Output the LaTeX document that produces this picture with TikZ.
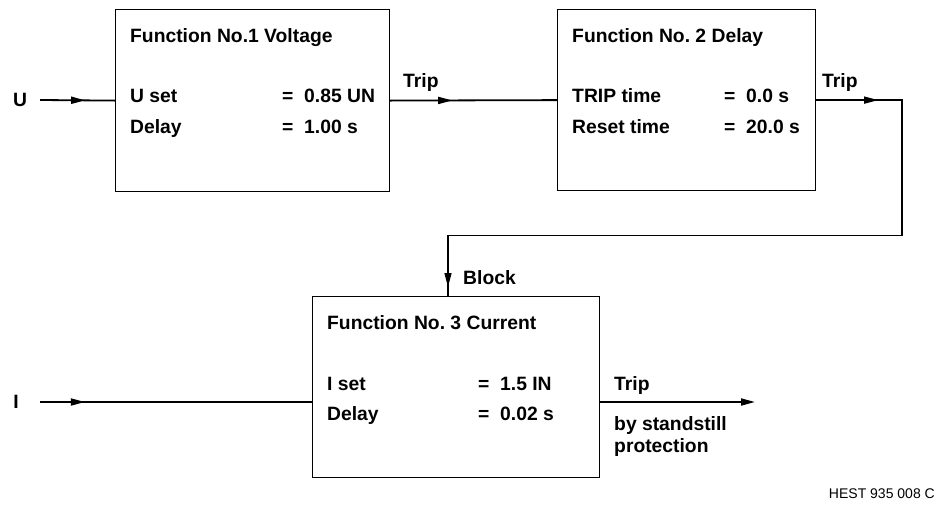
\documentclass[tikz,border=0pt]{standalone}
\usepackage{fontspec}
\setmainfont{Liberation Sans}
\usetikzlibrary{arrows.meta,positioning,decorations.markings}
\newcommand{\labelfont}{\fontsize{19.3}{22}\selectfont\bfseries}
\tikzset{
  funcbox/.style={draw,line width=1.2pt,anchor=north west,inner sep=0pt},
  boxtext/.style={anchor=base west,inner sep=0pt,font=\labelfont},
  sig/.style={inner sep=0pt,font=\labelfont},
  wire/.style={line width=1.8pt},
  loopwire/.style={line width=1.3pt},
  midtip/.style={decoration={markings,mark=at position #1 with {\arrow{Triangle[length=14pt,width=7pt]}}},postaction={decorate}},
  looptips/.style={decoration={markings,mark=at position 62pt with {\arrow{Triangle[length=14pt,width=7pt]}},mark=at position -9pt with {\arrow{Triangle[length=14pt,width=7pt]}}},postaction={decorate}}
}
\begin{document}
\frenchspacing
\begin{tikzpicture}[x=1pt,y=-1pt]
  \useasboundingbox (0,0) rectangle (939,504);
  \node[funcbox,minimum width=274pt,minimum height=182pt] (volt) at (115,9) {};
  \node[funcbox,minimum width=258pt,minimum height=181pt] (delay) at (557,9) {};
  \node[funcbox,minimum width=287pt,minimum height=181pt] (curr) at (312,296) {};

  \node[boxtext] (volttitle) at ([shift={(15,33)}]volt.north west) {Function No.1 Voltage};
  \node[boxtext] (uset) at ([shift={(15,93)}]volt.north west) {U set};
  \node[boxtext] (usetval) at ([shift={(167,93)}]volt.north west) {=\ \ 0.85 UN};
  \node[boxtext] (vdelay) at ([shift={(15,124)}]volt.north west) {Delay};
  \node[boxtext] (vdelayval) at ([shift={(167,124)}]volt.north west) {=\ \ 1.00 s};

  \node[boxtext] (delaytitle) at ([shift={(15,33)}]delay.north west) {Function No. 2 Delay};
  \node[boxtext] (triptime) at ([shift={(15,93)}]delay.north west) {TRIP time};
  \node[boxtext] (triptimeval) at ([shift={(167,93)}]delay.north west) {=\ \ 0.0 s};
  \node[boxtext] (resettime) at ([shift={(15,124)}]delay.north west) {Reset time};
  \node[boxtext] (resettimeval) at ([shift={(167,124)}]delay.north west) {=\ \ 20.0 s};

  \node[boxtext] (currtitle) at ([shift={(15,33)}]curr.north west) {Function No. 3 Current};
  \node[boxtext] (iset) at ([shift={(15,94)}]curr.north west) {I set};
  \node[boxtext] (isetval) at ([shift={(166,94)}]curr.north west) {=\ \ 1.5 IN};
  \node[boxtext] (cdelay) at ([shift={(15,124)}]curr.north west) {Delay};
  \node[boxtext] (cdelayval) at ([shift={(166,124)}]curr.north west) {=\ \ 0.02 s};

  \node[sig] (U) at (20,100) {U};
  \node[sig] (I) at (16,402) {I};
  \node[sig,anchor=base west] (trip1) at (403,87) {Trip};
  \node[sig,anchor=base west] (trip2) at (822,87) {Trip};
  \node[sig,anchor=base west] (block) at (463,284) {Block};
  \node[sig,anchor=base west] (trip3) at (614,390) {Trip};
  \node[sig,anchor=base west] (standstill) at (614,430) {by standstill};
  \node[sig,anchor=base west] (protection) at (614,452) {protection};
  \node[anchor=base east,inner sep=0pt,font=\fontsize{14}{16}\selectfont] (hest) at (935,498) {HEST 935 008 C};

  \coordinate (loopR) at (902,235.5);
  \coordinate (loopL) at (448,235.5);
  \coordinate (out) at (755,402);

  \draw[wire,midtip=45pt] ([xshift=13pt]U.east) -- (volt.west);
  \draw[wire,midtip=62pt] (volt.east) -- (delay.west);
  \draw[loopwire,looptips] (delay.east) -| (loopR) -- (loopL) -- (loopL |- curr.north);
  \draw[wire,midtip=45pt] ([xshift=21pt]I.east) -- (curr.west |- I);
  \draw[wire,-{Triangle[length=14pt,width=7pt]}] (curr.east |- out) -- (out);
\end{tikzpicture}
\end{document}
